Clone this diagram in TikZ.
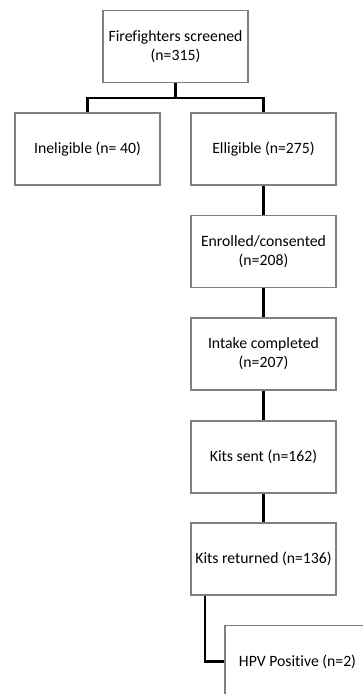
\documentclass[tikz,border=0pt]{standalone}
\usepackage{fontspec}
\setmainfont[Ligatures=NoCommon]{Carlito}
\begin{document}
\begin{tikzpicture}[x=0.75pt,y=-0.75pt,
  box/.style={draw=black!50,line width=0.8pt,fill=white,minimum width=108.75pt,minimum height=54pt,inner sep=0pt,align=center,font=\fontsize{11.8}{14.25}\selectfont},
  conn/.style={draw=black,line width=1.7pt}]
\useasboundingbox (0,0) rectangle (362,694);
\node[box] (top) at (175.5,46.5) {Firefighters screened\\(n=315)};
\node[box] (inel) at (87.5,149) {Ineligible (n= 40)};
\node[box] (elig) at (263.5,149) {Elligible (n=275)};
\node[box] (enr) at (263.5,251.5) {Enrolled/consented\\(n=208)};
\node[box] (intake) at (263.5,354) {Intake completed\\(n=207)};
\node[box] (sent) at (263.5,457) {Kits sent (n=162)};
\node[box] (ret) at (263.5,559) {Kits returned (n=136)};
\node[box] (hpv) at (297.5,661.5) {HPV Positive (n=2)};
\coordinate (split) at (175.5,98);
\draw[conn] (top.south) -- (split);
\draw[conn] (inel.north) -- (87.5,98) -- (263.5,98) -- (elig.north);
\draw[conn] (elig) -- (enr);
\draw[conn] (enr) -- (intake);
\draw[conn] (intake) -- (sent);
\draw[conn] (sent) -- (ret);
\draw[conn] (ret.south -| 205,0) -- (205,661.5) -- (hpv.west);
\end{tikzpicture}
\end{document}
